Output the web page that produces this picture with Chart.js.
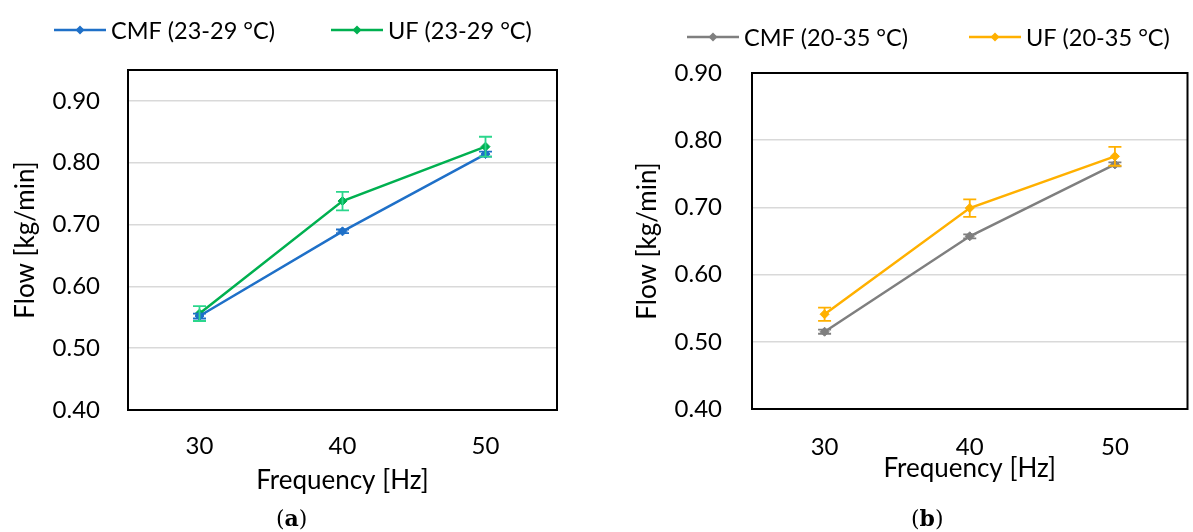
<!DOCTYPE html>
<html>
<head>
<meta charset="utf-8">
<script src="https://cdn.jsdelivr.net/npm/chart.js@4.4.1/dist/chart.umd.min.js"></script>
<style>
  html, body { margin: 0; padding: 0; background: #fff; }
  body { width: 1193px; height: 532px; position: relative; overflow: hidden; }
  .panel { position: absolute; top: 0; height: 532px; }
  #panelA { left: 0; width: 596px; }
  #panelB { left: 596px; width: 597px; }
  .caption { position: absolute; top: 505px; font-family: 'DejaVu Serif', 'Liberation Serif', serif; font-size: 22px; color: #000; }
  .caption b { font-weight: bold; }
</style>
</head>
<body>
<div class="panel" id="panelA"><canvas id="chartA"></canvas></div>
<div class="panel" id="panelB"><canvas id="chartB"></canvas></div>
<div class="caption" style="left:276px">(<b>a</b>)</div>
<div class="caption" style="left:911px">(<b>b</b>)</div>
<script>
// --- DATA ---
const freqLabels = ['30', '40', '50'];

// (a) 23-29 °C
const cmfA = [0.552, 0.689, 0.814];
const cmfAErr = [0.004, 0.003, 0.004];
const ufA = [0.556, 0.738, 0.826];
const ufAErr = [0.012, 0.015, 0.016];
const yTicksA = [0.40, 0.50, 0.60, 0.70, 0.80, 0.90];

// (b) 20-35 °C
const cmfB = [0.515, 0.657, 0.764];
const cmfBErr = [0.003, 0.003, 0.003];
const ufB = [0.541, 0.699, 0.776];
const ufBErr = [0.010, 0.013, 0.014];
const yTicksB = [0.40, 0.50, 0.60, 0.70, 0.80, 0.90];

// --- CONSTANTS ---
const COLORS = {
    blue: '#1F70C8',
    green: '#00B050',
    greenErr: '#2BD68C',
    gray: '#7F7F7F',
    orange: '#FFB000',
    grid: '#D9D9D9',
};
const FONT = 'Lato, "Open Sans", sans-serif';

// --- PLUGINS ---
// error bars drawn from each dataset's errors array
const errorBarPlugin = {
    id: 'errorBars',
    afterDatasetsDraw(chart) {
        const ctx = chart.ctx;
        const yScale = chart.scales.y;
        chart.data.datasets.forEach((ds, di) => {
            if (!ds.errors) return;
            const meta = chart.getDatasetMeta(di);
            ctx.save();
            ctx.strokeStyle = ds.errorColor || ds.borderColor;
            ctx.lineWidth = 1.8;
            meta.data.forEach((pt, i) => {
                const top = yScale.getPixelForValue(ds.data[i] + ds.errors[i]);
                const bot = yScale.getPixelForValue(ds.data[i] - ds.errors[i]);
                const cap = 6.5;
                ctx.beginPath();
                ctx.moveTo(pt.x, top); ctx.lineTo(pt.x, bot);
                ctx.moveTo(pt.x - cap, top); ctx.lineTo(pt.x + cap, top);
                ctx.moveTo(pt.x - cap, bot); ctx.lineTo(pt.x + cap, bot);
                ctx.stroke();
            });
            ctx.restore();
        });
    }
};

// black frame round the plot area
const frameBox = {
    id: 'frameBox',
    afterDraw(chart) {
        const { ctx, chartArea: a } = chart;
        ctx.save();
        ctx.strokeStyle = '#000';
        ctx.lineWidth = 2;
        ctx.strokeRect(a.left, a.top, a.right - a.left, a.bottom - a.top);
        ctx.restore();
    }
};

// Excel-like legend: line with a diamond marker, then the label
const lineLegend = {
    id: 'lineLegend',
    afterDraw(chart, args, opts) {
        const ctx = chart.ctx;
        ctx.save();
        ctx.font = `23.5px ${FONT}`;
        ctx.textBaseline = 'middle';
        ctx.fillStyle = '#000';
        chart.data.datasets.forEach((ds, i) => {
            const x0 = opts.items[i], x1 = x0 + 52, y = opts.y;
            ctx.strokeStyle = ds.borderColor;
            ctx.lineWidth = 2.5;
            ctx.beginPath(); ctx.moveTo(x0, y); ctx.lineTo(x1, y); ctx.stroke();
            const cx = (x0 + x1) / 2, r = 4.5;
            ctx.fillStyle = ds.borderColor;
            ctx.beginPath();
            ctx.moveTo(cx, y - r); ctx.lineTo(cx + r, y); ctx.lineTo(cx, y + r); ctx.lineTo(cx - r, y);
            ctx.closePath(); ctx.fill();
            ctx.fillStyle = '#000';
            ctx.fillText(ds.label, x1 + 5, y + 1);
        });
        ctx.restore();
    }
};

function lineSet(label, data, errors, color, errColor) {
    return {
        label: label,
        data: data,
        errors: errors,
        errorColor: errColor || color,
        borderColor: color,
        backgroundColor: color,
        borderWidth: 2.5,
        pointStyle: 'rectRot',
        pointRadius: 4.5,
        pointBorderWidth: 1,
        tension: 0
    };
}

function makeChart(id, datasets, yTicks, yMax, cfg) {
    const ctx = document.getElementById(id).getContext('2d');
    return new Chart(ctx, {
        type: 'line',
        data: { labels: freqLabels, datasets: datasets },
        plugins: [errorBarPlugin, frameBox, lineLegend],
        options: {
            responsive: true,
            maintainAspectRatio: false,
            animation: false,
            layout: { padding: cfg.padding },
            plugins: {
                legend: { display: false },
                tooltip: { enabled: false },
                lineLegend: { items: cfg.legendX, y: cfg.legendY }
            },
            scales: {
                x: {
                    type: 'category',
                    offset: true,
                    afterFit: (s) => { s.height = cfg.xHeight; },
                    grid: { display: false, drawTicks: false },
                    border: { display: true, color: '#000', width: 2 },
                    ticks: { font: { family: FONT, size: 24 }, color: '#000', padding: cfg.xTickPad },
                    title: {
                        display: true, text: 'Frequency [Hz]', color: '#000',
                        font: { family: FONT, size: 26 }, padding: { top: 0, bottom: cfg.xTitlePad }
                    }
                },
                y: {
                    min: 0.40,
                    max: yMax,
                    afterBuildTicks: (s) => { s.ticks = yTicks.map(v => ({ value: v })); },
                    afterFit: (s) => { s.width = cfg.yWidth; },
                    grid: { color: COLORS.grid, lineWidth: 1.5, drawTicks: false },
                    border: { display: true, color: '#000', width: 2 },
                    ticks: {
                        font: { family: FONT, size: 24 }, color: '#000', padding: cfg.yTickPad,
                        callback: (v) => Number(v).toFixed(2)
                    },
                    title: {
                        display: true, text: 'Flow [kg/min]', color: '#000',
                        font: { family: FONT, size: 26 }, padding: { top: cfg.yTitlePad, bottom: 0 }
                    }
                }
            }
        }
    });
}

makeChart('chartA', [
    lineSet('CMF (23-29 °C)', cmfA, cmfAErr, COLORS.blue),
    lineSet('UF (23-29 °C)', ufA, ufAErr, COLORS.green, COLORS.greenErr)
], yTicksA, 0.95, {
    padding: { left: 0, right: 39, top: 70, bottom: 36 },
    yWidth: 128, yTickPad: 28, yTitlePad: 10,
    xHeight: 86, xTickPad: 22, xTitlePad: 0,
    legendX: [54, 331], legendY: 30
});

makeChart('chartB', [
    lineSet('CMF (20-35 °C)', cmfB, cmfBErr, COLORS.gray),
    lineSet('UF (20-35 °C)', ufB, ufBErr, COLORS.orange)
], yTicksB, 0.90, {
    padding: { left: 0, right: 2, top: 73, bottom: 40 },
    yWidth: 156, yTickPad: 30, yTitlePad: 36,
    xHeight: 83, xTickPad: 24, xTitlePad: 8,
    legendX: [91, 373], legendY: 37
});
</script>
</body>
</html>
